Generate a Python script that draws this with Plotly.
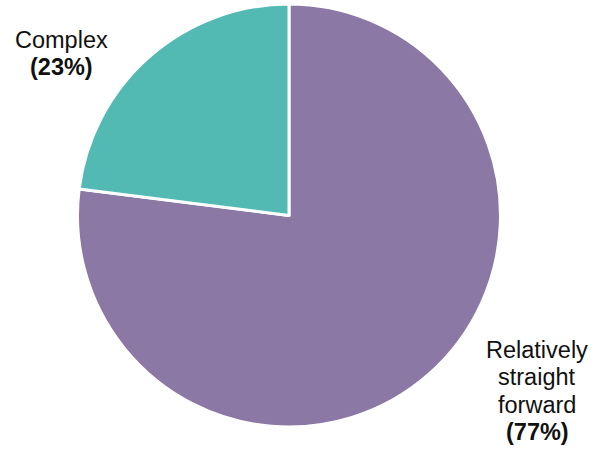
import plotly.graph_objects as go

# Share of cases by perceived difficulty
categories = ["Relatively straight forward", "Complex"]
shares = [77, 23]
label_lines = [["Relatively", "straight", "forward"], ["Complex"]]
colors = ["#8B78A5", "#52B9B3"]

W, H = 608, 449

fig = go.Figure(
    go.Pie(
        labels=categories,
        values=shares,
        sort=False,
        direction="clockwise",
        rotation=0,
        marker=dict(colors=colors, line=dict(color="white", width=3)),
        textinfo="none",
        hoverinfo="label+percent",
        showlegend=False,
        domain=dict(x=[77 / W, 501 / W], y=[1 - 427 / H, 1 - 4 / H]),
    )
)

font = dict(family="Liberation Sans, Arial, sans-serif", size=23.5, color="#111111")
line_gap = 27.3

# Top-line centre of each label block (pixels)
anchors = [(537, 350), (61, 40)]
for lines, value, (cx, cy) in zip(label_lines, shares, anchors):
    rows = lines + [f"<b>({value}%)</b>"]
    for i, row in enumerate(rows):
        fig.add_annotation(
            x=cx / W,
            y=1 - (cy + i * line_gap) / H,
            xref="paper",
            yref="paper",
            text=row,
            showarrow=False,
            xanchor="center",
            yanchor="middle",
            font=font,
        )

fig.update_layout(
    width=W,
    height=H,
    margin=dict(l=0, r=0, t=0, b=0),
    paper_bgcolor="white",
    plot_bgcolor="white",
)

fig.write_html("out.html")
